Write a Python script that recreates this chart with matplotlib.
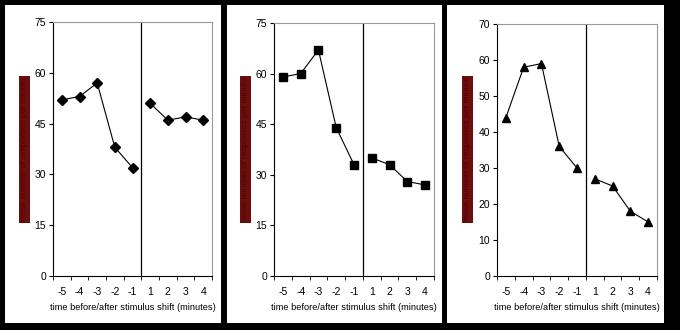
import numpy as np
import matplotlib
matplotlib.use('Agg')
import matplotlib.pyplot as plt
from matplotlib.patches import Rectangle

plt.rcParams['font.family'] = ['Liberation Sans', 'DejaVu Sans']

# data
before = ['-5', '-4', '-3', '-2', '-1']
after = ['1', '2', '3', '4']
panel1 = [52, 53, 57, 38, 32, 51, 46, 47, 46]
panel2 = [59, 60, 67, 44, 33, 35, 33, 28, 27]
panel3 = [44, 58, 59, 36, 30, 27, 25, 18, 15]
markers = ['D', 's', '^']
ymax = [75, 75, 70]
ystep = [15, 15, 10]
xlabel = 'time before/after stimulus shift (minutes)'
ylabel = 'mean number of responses per minute'

W, H = 680, 330
fig = plt.figure(figsize=(W / 100, H / 100), dpi=100)
fig.patch.set_facecolor('black')

def fx(px):
    return px / W

def fy(py):
    return 1 - py / H

# white panels (pixel boxes: left, right)
panels = [(5, 221), (227, 442), (447, 664)]
axes_px = [(53, 212), (274, 434), (497, 657)]
label_px = [19, 240, 462]
top_px = [22, 23, 24]
msize = [5, 5.5, 5.5]

for i, vals in enumerate([panel1, panel2, panel3]):
    l, r = panels[i]
    fig.add_artist(Rectangle((fx(l), fy(323)), fx(r - l), (323 - 5) / H,
                             transform=fig.transFigure, facecolor='white',
                             edgecolor='none', zorder=0))
    al, ar = axes_px[i]
    ax = fig.add_axes([fx(al), fy(276), fx(ar - al), (276 - top_px[i]) / H])
    cats = before + after
    x = np.arange(len(cats))
    nb = len(before)
    ax.plot(x[:nb], vals[:nb], color='black', lw=0.8, marker=markers[i],
            ms=msize[i], clip_on=False)
    ax.plot(x[nb:], vals[nb:], color='black', lw=0.8, marker=markers[i],
            ms=msize[i], clip_on=False)
    ax.axvline(nb - 0.5, color='black', lw=0.9)
    ax.set_xlim(-0.5, len(cats) - 0.5)
    ax.set_ylim(0, ymax[i])
    ax.set_yticks(np.arange(0, ymax[i] + 1, ystep[i]))
    ax.set_xticks(x)
    ax.set_xticklabels(cats)
    ax.set_xticks(np.arange(-0.5, len(cats), 1), minor=True)
    ax.tick_params(axis='x', which='major', length=0, labelsize=7.5, pad=8)
    ax.tick_params(axis='x', which='minor', length=3, direction='out')
    ax.tick_params(axis='y', length=3, direction='out', labelsize=7.5, pad=2)
    for s in ['left', 'bottom']:
        ax.spines[s].set_color('black')
        ax.spines[s].set_linewidth(0.8)
    for s in ['top', 'right']:
        ax.spines[s].set_color('#999999')
        ax.spines[s].set_linewidth(0.8)
    ax.set_xlabel(xlabel, fontsize=6.7, labelpad=4)

    # dark red y-label box
    lx = label_px[i]
    fig.add_artist(Rectangle((fx(lx), fy(223)), fx(11), (223 - 76) / H,
                             transform=fig.transFigure, facecolor='#6e0d0d',
                             edgecolor='none', zorder=1))
    fig.text(fx(lx + 5.5), fy(149.5), ylabel, rotation=90, ha='center',
             va='center', fontsize=6, color='#4a0505', zorder=2)

fig.savefig('out.png', dpi=100, facecolor=fig.get_facecolor())
